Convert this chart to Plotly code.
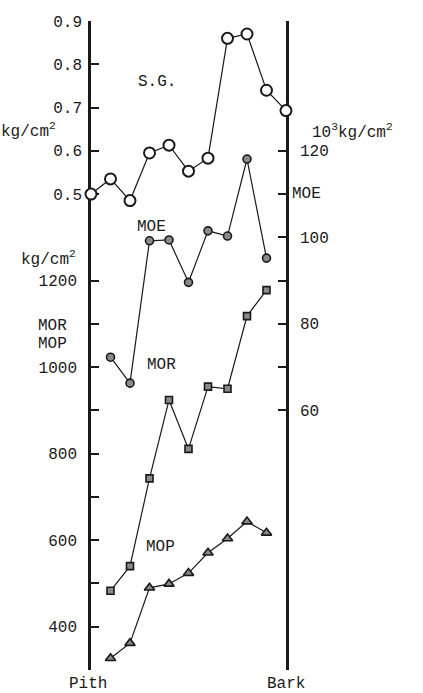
import plotly.graph_objects as go

# Radial position from pith (0) to bark (10)
positions = list(range(11))
sg = [0.50, 0.535, 0.485, 0.595, 0.613, 0.553, 0.583, 0.86, 0.87, 0.74, 0.693]

inner_positions = list(range(1, 10))
moe = [72.3, 66.3, 99.2, 99.4, 89.6, 101.5, 100.3, 118.1, 95.2]   # 10^3 kg/cm2
mor = [483, 540, 743, 924, 811, 955, 950, 1118, 1178]            # kg/cm2
mop = [327, 362, 490, 499, 524, 571, 604, 643, 617]              # kg/cm2

sg_ticks = [0.5, 0.6, 0.7, 0.8, 0.9]
sg_ticktext = ["0.5", "0.6", "0.7", "0.8", "0.9"]
strength_ticks = [300, 400, 500, 600, 700, 800, 900, 1000, 1100, 1200]
strength_ticktext = ["", "400", "", "600", "", "800", "", "1000", "", "1200"]
moe_ticks = [60, 70, 80, 90, 100, 110, 120]
moe_ticktext = ["60", "", "80", "", "100", "", "120"]

FONT = "Liberation Mono"
SIZE = 16
INK = "#1a1a1a"
FILL = "#8a8a8a"

fig = go.Figure()

line_style = dict(color=INK, width=1.2)

fig.add_trace(go.Scatter(
    x=positions, y=sg, yaxis="y2", mode="lines+markers", cliponaxis=False,
    line=line_style,
    marker=dict(symbol="circle", size=11, color="white", line=dict(color=INK, width=2)),
    showlegend=False))

fig.add_trace(go.Scatter(
    x=inner_positions, y=moe, yaxis="y3", mode="lines+markers", cliponaxis=False,
    line=line_style,
    marker=dict(symbol="circle", size=8, color=FILL, line=dict(color=INK, width=1.6)),
    showlegend=False))

fig.add_trace(go.Scatter(
    x=inner_positions, y=mor, yaxis="y", mode="lines+markers", cliponaxis=False,
    line=line_style,
    marker=dict(symbol="square", size=7, color=FILL, line=dict(color=INK, width=1.6)),
    showlegend=False))

fig.add_trace(go.Scatter(
    x=inner_positions, y=mop, yaxis="y", mode="lines+markers", cliponaxis=False,
    line=line_style,
    marker=dict(symbol="triangle-up", size=9, color=FILL, line=dict(color=INK, width=1.6)),
    showlegend=False))

axis_common = dict(showgrid=False, zeroline=False, ticks="inside", ticklen=8,
                   tickwidth=2, tickcolor=INK, layer="below traces",
                   ticklabelstandoff=8,
                   tickfont=dict(family=FONT, size=SIZE, color=INK))

fig.update_layout(
    width=423, height=693,
    margin=dict(l=91, r=137, t=21, b=23),
    paper_bgcolor="white", plot_bgcolor="white",
    font=dict(family=FONT, size=SIZE, color=INK),
    xaxis=dict(range=[0, 10], visible=False),
    yaxis=dict(range=[300, 1800], side="left", showline=True, linecolor=INK,
               linewidth=2.6, tickvals=strength_ticks, ticktext=strength_ticktext,
               **axis_common),
    yaxis2=dict(range=[-0.6, 0.9], side="left", overlaying="y", showline=False,
                tickvals=sg_ticks, ticktext=sg_ticktext, **axis_common),
    yaxis3=dict(range=[0, 150], side="right", overlaying="y", showline=True,
                linecolor=INK, linewidth=2.6, tickvals=moe_ticks,
                ticktext=moe_ticktext, **axis_common),
)

def label(text, x, y, xref, yref, xanchor="center"):
    fig.add_annotation(text=text, x=x, y=y, xref=xref, yref=yref,
                       xanchor=xanchor, yanchor="middle", showarrow=False,
                       font=dict(family=FONT, size=SIZE, color=INK))

# series labels inside the plot
label("S.G.", 3.4, 0.76, "x", "y2")
label("MOE", 3.08, 102.4, "x", "y3")
label("MOR", 3.59, 1005, "x", "y")
label("MOP", 3.54, 584, "x", "y")

# axis titles
label("kg/cm<sup>2</sup>", -0.17, 0.648, "paper", "y2", "right")
label("kg/cm<sup>2</sup>", -0.067, 1250, "paper", "y", "right")
label("MOR", -0.282, 1095, "paper", "y", "left")
label("MOP", -0.282, 1053, "paper", "y", "left")
label("10<sup>3</sup>kg/cm<sup>2</sup>", 1.125, 124.5, "paper", "y3", "left")
label("MOE", 1.02, 110, "paper", "y3", "left")
label("Pith", -0.015, -0.0216, "paper", "paper")
label("Bark", 1.0, -0.0216, "paper", "paper")

fig.write_html("out.html")
